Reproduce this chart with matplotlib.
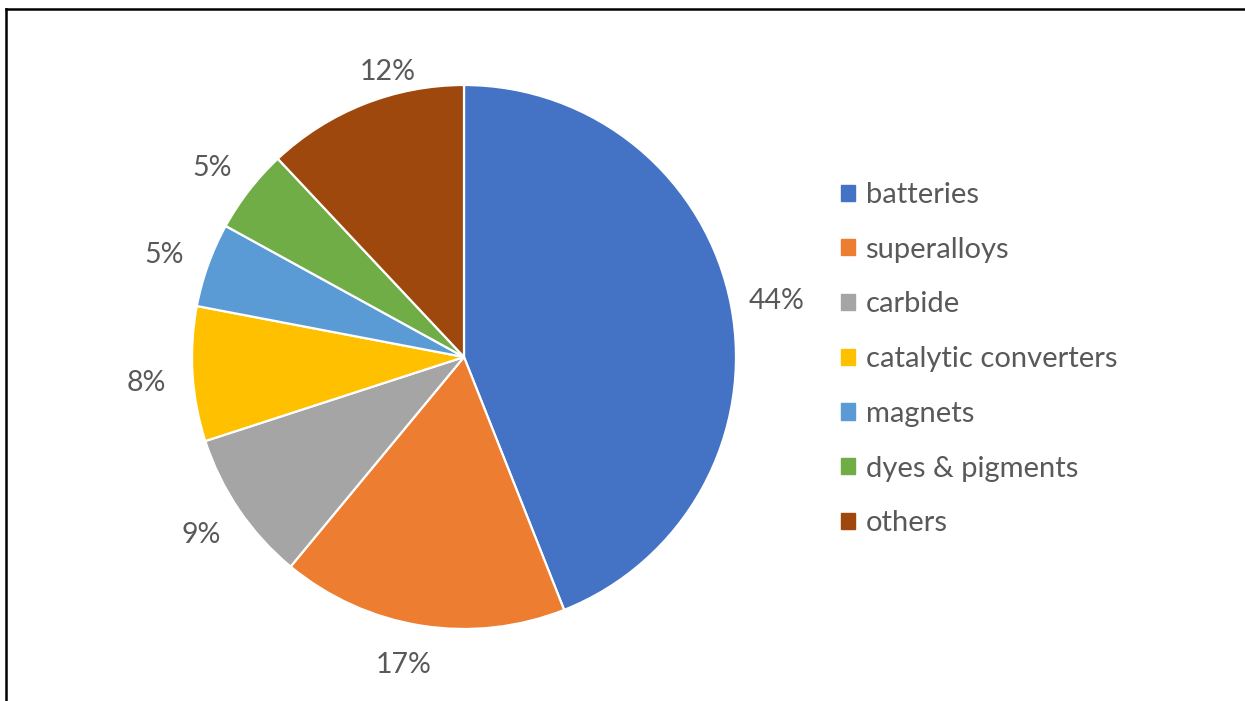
import matplotlib
matplotlib.use("Agg")
import matplotlib.pyplot as plt
from matplotlib.patches import Patch
from matplotlib.lines import Line2D

categories = ["batteries", "superalloys", "carbide", "catalytic converters",
              "magnets", "dyes & pigments", "others"]
shares = [44, 17, 9, 8, 5, 5, 12]
colors = ["#4472C4", "#ED7D31", "#A5A5A5", "#FFC000", "#5B9BD5", "#70AD47", "#9E480E"]

plt.rcParams['font.family'] = ['Lato', 'DejaVu Sans']
text_color = "#595959"

W, H = 1245, 701
fig = plt.figure(figsize=(W / 100, H / 100), dpi=100)
fig.patch.set_facecolor("white")

cx, cy, r = 464, 357, 272
ax = fig.add_axes([(cx - r) / W, (H - cy - r) / H, 2 * r / W, 2 * r / H])
wedges, texts, autotexts = ax.pie(
    shares, colors=colors, startangle=90, counterclock=False,
    autopct=lambda p: f"{p:.0f}%", pctdistance=1.17,
    wedgeprops=dict(edgecolor="white", linewidth=1.6),
    textprops=dict(color=text_color, fontsize=20.5))
# small "best fit" nudges of the outside labels (label units: pie radius)
nudges = [(0.0, -0.015), (-0.04, 0.025), (0.0, 0.005), (0.0, -0.022),
          (0.0, -0.022), (0.0, -0.022), (0.15, -0.04)]
for t, (dx, dy) in zip(autotexts, nudges):
    x, y = t.get_position()
    t.set_position((x + dx, y + dy))

ax.set_xlim(-1, 1)
ax.set_ylim(-1, 1)
ax.set_aspect("equal")
ax.axis("off")

handles = [Patch(facecolor=c, edgecolor=c) for c in colors]
leg = fig.legend(handles, categories, loc="upper left",
                 bbox_to_anchor=(841 / W, 1 - 182 / H),
                 frameon=False, fontsize=21, handlelength=0.48, handleheight=0.48,
                 handletextpad=0.36, labelspacing=0.985, borderaxespad=0,
                 borderpad=0)
for t in leg.get_texts():
    t.set_color(text_color)

# chart frame (top and left edges visible)
fig.add_artist(Line2D([6 / W, 1], [1 - 9 / H, 1 - 9 / H], color="black", lw=1.8,
                      transform=fig.transFigure))
fig.add_artist(Line2D([6 / W, 6 / W], [0, 1 - 9 / H], color="black", lw=1.8,
                      transform=fig.transFigure))

fig.savefig("out.png", dpi=100)
